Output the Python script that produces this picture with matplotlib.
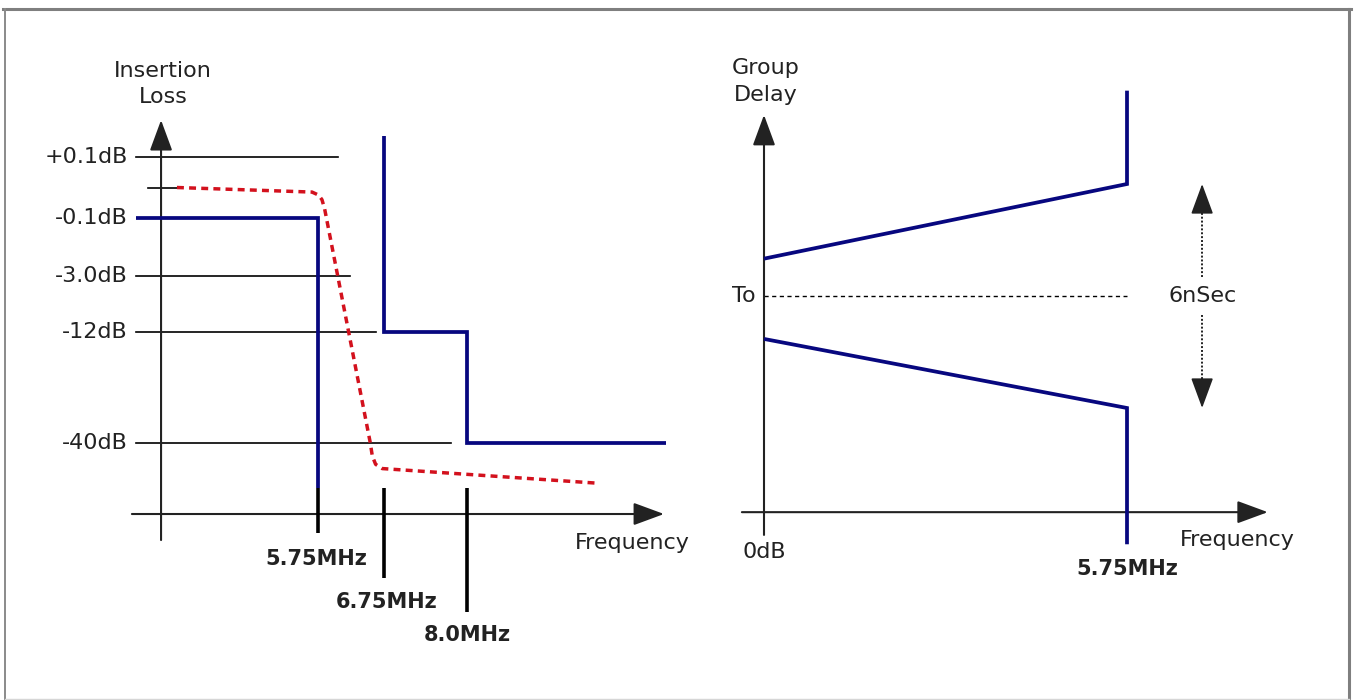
import numpy as np
import matplotlib
matplotlib.use('Agg')
import matplotlib.pyplot as plt
from matplotlib.lines import Line2D

# --- insertion loss mask (left): x in MHz, y in dB on a schematic scale ---
loss_labels = ['+0.1dB', '-0.1dB', '-3.0dB', '-12dB', '-40dB']
loss_levels = [0.1, -0.1, -3.0, -12.0, -40.0]
guide_levels = [0.1, -3.0, -12.0, -40.0]
guide_end_mhz = [6.05, 6.23, 6.63, 7.76]

passband_mhz = [3.0, 5.75, 5.75]
passband_db = [-0.1, -0.1, -59.0]
stopband_mhz = [6.75, 6.75, 8.0, 8.0, 11.0]
stopband_db = [0.17, -12.0, -12.0, -40.0, -40.0]

response_mhz = [3.62, 5.66, 5.76, 5.81, 5.85, 6.54, 6.57, 6.62, 6.72, 9.98]
response_db = [0.0, -0.015, -0.025, -0.04, -0.07, -40.0, -45.5, -49.0, -50.8, -57.0]

freq_marks = [5.75, 6.75, 8.0]
freq_labels = ['5.75MHz', '6.75MHz', '8.0MHz']

# --- group delay (right): x in MHz, y in ns relative to To ---
delay_mhz = [0.0, 5.75, 5.75]
delay_upper_ns = [1.0, 3.0, 5.5]
delay_lower_ns = [-1.15, -3.0, -6.65]
delay_cutoff = 5.75
delay_span_ns = 6.0

ink = '#222222'
navy = '#07077f'
red = '#d3111d'
font = 'DejaVu Sans'

W, H = 1354, 700
fig = plt.figure(figsize=(W / 100, H / 100), dpi=100)
axl = fig.add_axes([0, 0, 1, 1])
axr = fig.add_axes([0, 0, 1, 1])
for ax in (axl, axr):
    ax.set_axis_off()

# left panel scales: MHz linear, dB piecewise (each labelled level has its own row)
k = (467 - 318) / (8.0 - 5.75)
axl.set_xlim(5.75 - 318 / k, 5.75 + (W - 318) / k)
anchor_db = np.array([-200, -40, -12, -3, -0.1, 0.1, 1.0])
anchor_px = np.array([443 + 160 * 2.367, 443, 332, 276, 218, 157, 157 - 0.9 * 305])


def db_fwd(v):
    return -np.interp(v, anchor_db, anchor_px)


def db_inv(t):
    return np.interp(-np.asarray(t), anchor_px[::-1], anchor_db[::-1])


axl.set_yscale('function', functions=(db_fwd, db_inv))
axl.set_ylim(float(db_inv(-H)), float(db_inv(0)))

# right panel scales
k2 = (1127 - 764) / 5.75
ns_px = 224 / delay_span_ns
axr.set_xlim(-764 / k2, (W - 764) / k2)
axr.set_ylim((296 - H) / ns_px, 296 / ns_px)


def arrow(ax, start, tip, lw=1.5):
    ax.annotate('', xy=tip, xytext=start,
                arrowprops=dict(arrowstyle='-|>,head_length=19,head_width=7',
                                mutation_scale=1, lw=lw, color=ink,
                                shrinkA=0, shrinkB=0))


txt = dict(color=ink, family=font, fontsize=16)
bold = dict(color=ink, family=font, fontsize=15, fontweight='bold')

# ---------------- insertion loss ----------------
arrow(axl, (3.38, -81), (3.38, 0.221))
arrow(axl, (2.94, -70), (10.975, -70))
axl.text(3.41, 0.339, 'Insertion\nLoss', ha='center', va='center',
         linespacing=1.4, **txt)
axl.text(9.63, -82.2, 'Frequency', ha='left', va='center', **txt)

for lab, lev in zip(loss_labels, loss_levels):
    axl.text(2.88, lev, lab, ha='right', va='center', **txt)
for lev, x1 in zip(guide_levels, guide_end_mhz):
    axl.plot([3.0, x1], [lev, lev], color='black', lw=1.2, zorder=2)
axl.plot([3.18, 3.62], [0.0, 0.0], color='black', lw=1.2, zorder=2)

mark_bottom = [-78, -97, -111.4]
label_y = [-89, -107.2, -121.2]
label_dx = [-0.03, 0.03, 0.0]
for f, lab, yb, yl, dx in zip(freq_marks, freq_labels, mark_bottom, label_y, label_dx):
    axl.plot([f, f], [-59, yb], color='black', lw=2.6, zorder=3,
             solid_capstyle='butt')
    axl.text(f + dx, yl, lab, ha='center', va='center', **bold)

axl.plot(passband_mhz, passband_db, color=navy, lw=2.7, zorder=4,
         solid_joinstyle='miter', solid_capstyle='butt')
axl.plot(stopband_mhz, stopband_db, color=navy, lw=2.7, zorder=4,
         solid_joinstyle='miter', solid_capstyle='butt')
axl.plot(response_mhz, response_db, color=red, lw=2.5, zorder=5,
         linestyle=(0, (2.0, 1.5)))

# ---------------- group delay ----------------
arrow(axr, (0, -6.4), (0, 4.85))
arrow(axr, (-0.35, -5.79), (7.98, -5.79))
axr.text(0.02, 5.74, 'Group\nDelay', ha='center', va='center',
         linespacing=1.45, **txt)
axr.text(-0.14, 0, 'To', ha='right', va='center', **txt)
axr.text(0, -6.86, '0dB', ha='center', va='center', **txt)
axr.text(6.59, -6.54, 'Frequency', ha='left', va='center', **txt)
axr.text(delay_cutoff, -7.32, '5.75MHz', ha='center', va='center', **bold)

axr.plot([0, delay_cutoff], [0, 0], color='black', lw=1.0,
         linestyle=(0, (3, 2.5)), zorder=2)
axr.plot(delay_mhz, delay_upper_ns, color=navy, lw=2.7, zorder=4,
         solid_joinstyle='miter', solid_capstyle='butt')
axr.plot(delay_mhz, delay_lower_ns, color=navy, lw=2.7, zorder=4,
         solid_joinstyle='miter', solid_capstyle='butt')

half = delay_span_ns / 2
xs = 6.94
axr.text(xs, 0, '6nSec', ha='center', va='center', **txt)
axr.plot([xs, xs], [0.5, half - 0.75], color=ink, lw=1.4, linestyle=(0, (1, 1)))
axr.plot([xs, xs], [-0.5, -half + 0.75], color=ink, lw=1.4, linestyle=(0, (1, 1)))
arrow(axr, (xs, half - 0.8), (xs, half), lw=1.2)
arrow(axr, (xs, -half + 0.8), (xs, -half), lw=1.2)

# outer frame
def frame(x0, y0, x1, y1, **kw):
    fig.add_artist(Line2D([x0 / W, x1 / W], [1 - y0 / H, 1 - y1 / H],
                          transform=fig.transFigure, **kw))


frame(3, 8.5, 1351, 8.5, color='#7f7f7f', lw=2.2)
frame(4.5, 8.5, 4.5, 700, color='#8a8a8a', lw=1.4)
frame(1349, 8.5, 1349, 700, color='#7f7f7f', lw=2.2)
frame(4.5, 698.5, 1349, 698.5, color='#d6d6d6', lw=1.0)

fig.savefig('out.png', dpi=100)
